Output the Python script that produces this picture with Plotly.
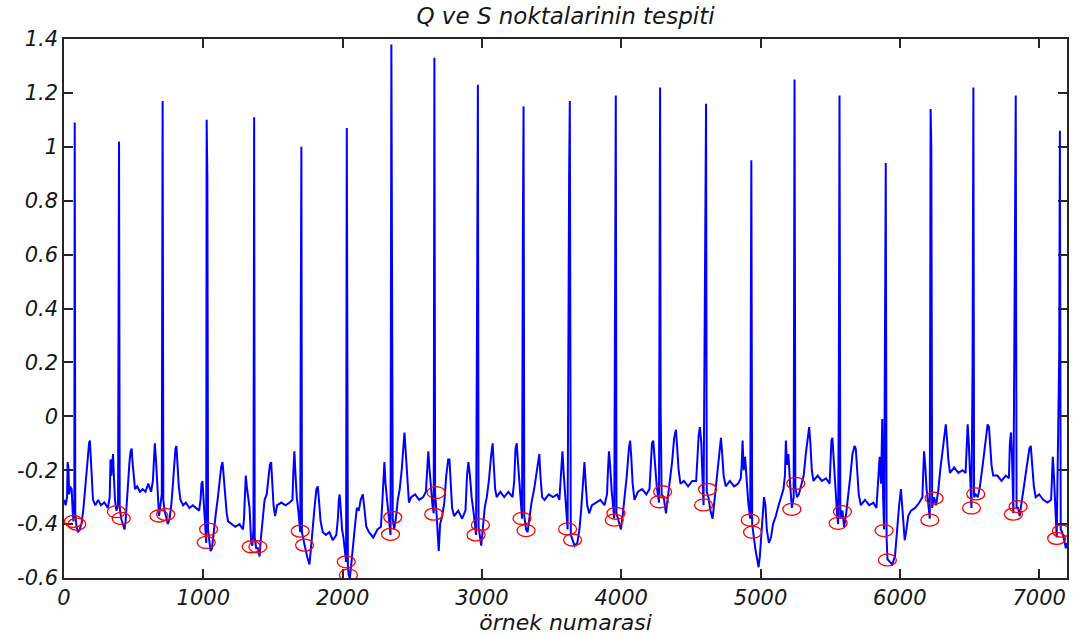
import plotly.graph_objects as go

# ECG trace: sample index and amplitude (mV) along the record
sample_idx = [
    0, 12, 22, 26, 32, 37, 44, 55, 62, 68, 74, 77, 81, 90, 100, 112, 125, 138, 150, 162,
    172, 180, 186, 192, 199, 208, 225, 245, 265, 290, 315,
    328, 334, 340, 346, 352, 358, 366, 376, 388, 395, 400, 411, 422, 434, 442, 452, 462, 470,
    478, 486, 492, 500, 510, 525, 545, 565, 585, 605, 625, 638,
    646, 652, 660, 668, 676, 682, 692, 702, 708, 713, 722, 732, 745, 758, 770, 782, 792, 800,
    807, 814, 824, 836, 855, 875, 900, 925, 950, 970, 980,
    987, 994, 1001, 1009, 1016, 1021, 1024, 1029, 1034, 1042, 1052, 1062, 1075, 1090, 1105,
    1118, 1128, 1138, 1146, 1156, 1168, 1178, 1200, 1230, 1260, 1285,
    1292, 1298, 1305, 1312, 1320, 1332, 1344, 1352, 1360, 1362, 1365, 1369, 1380, 1392, 1404,
    1412, 1425, 1440, 1455, 1468, 1478, 1487, 1495, 1504, 1515, 1530, 1560, 1590, 1620, 1640,
    1647, 1654, 1661, 1671, 1684, 1696, 1700, 1704, 1708, 1718, 1728, 1745, 1762, 1771, 1785,
    1800, 1812, 1822, 1830, 1842, 1858, 1880, 1905, 1930, 1955, 1966,
    1973, 1979, 1986, 1996, 2006, 2016, 2025, 2030, 2034, 2038, 2044, 2052, 2062, 2076, 2090,
    2102, 2116, 2130, 2145, 2156, 2170, 2190, 2220, 2250, 2275, 2287,
    2294, 2300, 2308, 2320, 2332, 2344, 2350, 2354, 2360, 2370, 2382, 2396, 2410, 2424, 2434,
    2444, 2454, 2465, 2476, 2492, 2520, 2550, 2578, 2598,
    2607, 2615, 2623, 2634, 2645, 2654, 2659, 2664, 2672, 2690, 2700, 2715, 2730, 2744, 2758,
    2767, 2775, 2786, 2800, 2830, 2858, 2882,
    2893, 2903, 2914, 2926, 2941, 2958, 2966, 2971, 2976, 2986, 2995, 3006, 3020, 3035, 3050,
    3065, 3077, 3085, 3095, 3106, 3132, 3160, 3190, 3220,
    3232, 3241, 3250, 3260, 3272, 3288, 3294, 3299, 3304, 3317, 3328, 3341, 3356, 3375, 3394,
    3404, 3412, 3420, 3432, 3450, 3480, 3510, 3540, 3556,
    3564, 3571, 3578, 3588, 3600, 3615, 3626, 3631, 3638, 3651, 3665, 3685, 3700, 3712, 3722,
    3730, 3736, 3745, 3756, 3770, 3790, 3820, 3850, 3880, 3898,
    3905, 3912, 3920, 3932, 3950, 3956, 3961, 3966, 3976, 3990, 3998, 4010, 4025, 4040, 4055,
    4064, 4072, 4082, 4095, 4120, 4150, 4180, 4203,
    4212, 4221, 4230, 4240, 4255, 4271, 4279, 4283, 4290, 4305, 4321, 4335, 4350, 4365, 4380,
    4393, 4402, 4412, 4425, 4450, 4480, 4510, 4538,
    4547, 4556, 4565, 4575, 4584, 4591, 4609, 4614, 4626, 4640, 4656, 4670, 4685, 4700, 4710,
    4716, 4725, 4735, 4750, 4780, 4810, 4840, 4858,
    4865, 4871, 4879, 4889, 4900, 4912, 4926, 4934, 4940, 4950, 4965, 4976, 4986, 4995, 5005,
    5015, 5025, 5035, 5045, 5060, 5075, 5090, 5110, 5130, 5150, 5165, 5175,
    5182, 5190, 5200, 5212, 5225, 5238, 5244, 5250, 5262, 5275, 5290, 5310, 5325, 5340, 5349,
    5358, 5368, 5380, 5410, 5440, 5470, 5496,
    5503, 5509, 5516, 5525, 5538, 5549, 5557, 5562, 5567, 5573, 5588, 5600, 5615, 5630, 5645,
    5660, 5675, 5684, 5692, 5705, 5720, 5750, 5780, 5810, 5832,
    5845, 5855, 5865, 5874, 5880, 5887, 5899, 5905, 5911, 5925, 5945, 5965, 5980, 5995, 6008,
    6015, 6025, 6035, 6045, 6060, 6080, 6110, 6140, 6162,
    6168, 6174, 6182, 6192, 6205, 6215, 6221, 6226, 6232, 6246, 6260, 6275, 6290, 6305, 6320,
    6330, 6338, 6348, 6360, 6390, 6420, 6450, 6472,
    6479, 6487, 6495, 6505, 6514, 6522, 6528, 6533, 6545, 6560, 6575, 6595, 6615, 6630, 6640,
    6648, 6658, 6670, 6700, 6730, 6760, 6783,
    6790, 6798, 6806, 6815, 6832, 6838, 6849, 6860, 6875, 6895, 6915, 6930, 6940, 6950, 6962,
    6975, 7000, 7030, 7060, 7086,
    7092, 7098, 7106, 7116, 7126, 7144, 7149, 7155, 7165, 7180, 7192, 7200,
]

amplitude = [
    -0.31, -0.33, -0.30, -0.17, -0.19, -0.29, -0.26, -0.27, -0.35, -0.39, -0.33, 1.09, -0.36, -0.41, -0.43, -0.42, -0.40, -0.35, -0.28, -0.20,
    -0.15, -0.10, -0.09, -0.15, -0.25, -0.31, -0.33, -0.31, -0.33, -0.32, -0.34,
    -0.30, -0.16, -0.22, -0.18, -0.14, -0.22, -0.31, -0.35, -0.33, 1.02, -0.34, -0.38, -0.40, -0.42, -0.39, -0.30, -0.24, -0.17,
    -0.13, -0.12, -0.17, -0.23, -0.27, -0.26, -0.28, -0.27, -0.28, -0.25, -0.28, -0.24,
    -0.12, -0.10, -0.16, -0.25, -0.31, -0.37, -0.33, -0.29, 1.17, -0.31, -0.35, -0.37, -0.40, -0.38, -0.33, -0.25, -0.17, -0.12,
    -0.11, -0.17, -0.26, -0.31, -0.33, -0.32, -0.34, -0.33, -0.34, -0.35, -0.31,
    -0.25, -0.24, -0.30, -0.37, -0.44, -0.47, 1.10, 0.89, -0.42, -0.46, -0.50, -0.49, -0.42, -0.36, -0.30,
    -0.22, -0.19, -0.17, -0.22, -0.30, -0.36, -0.39, -0.40, -0.41, -0.40, -0.42,
    -0.38, -0.29, -0.22, -0.26, -0.30, -0.34, -0.47, -0.48, -0.42, 0.07, 1.11, -0.45, -0.49, -0.49, -0.52,
    -0.46, -0.38, -0.31, -0.29, -0.22, -0.18, -0.17, -0.24, -0.33, -0.37, -0.33, -0.32, -0.33, -0.32, -0.31,
    -0.20, -0.13, -0.21, -0.30, -0.36, -0.43, 0.40, 1.00, -0.43, -0.46, -0.48, -0.52, -0.55, -0.50, -0.40,
    -0.33, -0.27, -0.26, -0.31, -0.39, -0.43, -0.44, -0.43, -0.46, -0.44, -0.38,
    -0.31, -0.29, -0.34, -0.42, -0.45, -0.50, -0.54, 1.07, 0.36, -0.56, -0.59, -0.60, -0.55, -0.46, -0.40,
    -0.34, -0.35, -0.31, -0.29, -0.34, -0.41, -0.43, -0.45, -0.42, -0.41, -0.30,
    -0.21, -0.17, -0.25, -0.32, -0.36, -0.44, 1.38, 0.05, -0.38, -0.42, -0.38, -0.31, -0.27, -0.20, -0.11,
    -0.06, -0.14, -0.25, -0.32, -0.30, -0.29, -0.31, -0.30, -0.28,
    -0.20, -0.13, -0.19, -0.28, -0.33, -0.36, 1.33, -0.29, -0.34, -0.50, -0.40, -0.37, -0.32, -0.22, -0.16,
    -0.16, -0.24, -0.34, -0.37, -0.35, -0.38, -0.35,
    -0.22, -0.17, -0.22, -0.30, -0.36, -0.44, 0.51, 1.23, -0.41, -0.45, -0.48, -0.42, -0.34, -0.30, -0.24,
    -0.15, -0.10, -0.18, -0.27, -0.30, -0.28, -0.30, -0.28, -0.30,
    -0.24, -0.12, -0.10, -0.18, -0.28, -0.38, 0.69, 1.15, -0.37, -0.42, -0.43, -0.38, -0.32, -0.27, -0.20,
    -0.15, -0.14, -0.22, -0.30, -0.31, -0.29, -0.30, -0.29, -0.31,
    -0.25, -0.16, -0.13, -0.22, -0.33, -0.42, 0.89, 1.17, -0.44, -0.46, -0.48, -0.47, -0.42, -0.35, -0.28,
    -0.20, -0.17, -0.25, -0.33, -0.36, -0.33, -0.32, -0.31, -0.33, -0.29,
    -0.20, -0.13, -0.18, -0.28, -0.38, 0.95, 1.19, -0.36, -0.38, -0.41, -0.42, -0.37, -0.30, -0.22, -0.12,
    -0.09, -0.15, -0.25, -0.31, -0.28, -0.27, -0.29, -0.27,
    -0.19, -0.10, -0.09, -0.17, -0.26, -0.32, 1.22, 0.03, -0.29, -0.30, -0.36, -0.30, -0.24, -0.17, -0.08,
    -0.05, -0.12, -0.20, -0.25, -0.24, -0.26, -0.24, -0.24,
    -0.16, -0.07, -0.04, -0.10, -0.24, -0.33, 1.16, -0.28, -0.30, -0.35, -0.38, -0.31, -0.24, -0.15, -0.09,
    -0.08, -0.14, -0.22, -0.26, -0.24, -0.26, -0.25, -0.23,
    -0.18, -0.09, -0.20, -0.15, -0.25, -0.32, -0.38, 0.95, -0.40, -0.45, -0.50, -0.53, -0.56, -0.52, -0.45,
    -0.35, -0.30, -0.33, -0.42, -0.47, -0.45, -0.40, -0.37, -0.33, -0.30, -0.27, -0.22,
    -0.09, -0.18, -0.14, -0.25, -0.34, -0.30, 1.25, -0.26, -0.30, -0.29, -0.26, -0.22, -0.14, -0.06, -0.04,
    -0.10, -0.20, -0.24, -0.22, -0.24, -0.23, -0.25,
    -0.16, -0.09, -0.08, -0.17, -0.28, -0.36, -0.40, 0.11, 1.19, -0.38, -0.35, -0.41, -0.36, -0.30, -0.22,
    -0.14, -0.11, -0.12, -0.20, -0.29, -0.33, -0.31, -0.33, -0.32, -0.34,
    -0.22, -0.15, -0.25, -0.01, -0.30, -0.42, 0.94, -0.45, -0.53, -0.54, -0.55, -0.52, -0.42, -0.33, -0.27,
    -0.33, -0.40, -0.46, -0.43, -0.37, -0.35, -0.34, -0.32, -0.30,
    -0.21, -0.13, -0.18, -0.27, -0.33, -0.38, 1.14, 1.00, -0.34, -0.30, -0.33, -0.28, -0.20, -0.13, -0.06,
    -0.03, -0.08, -0.16, -0.21, -0.19, -0.21, -0.20, -0.21,
    -0.10, -0.03, -0.10, -0.25, -0.34, 0.18, 1.22, -0.30, -0.29, -0.30, -0.26, -0.18, -0.08, -0.03, -0.04,
    -0.10, -0.18, -0.22, -0.22, -0.24, -0.22, -0.23,
    -0.10, -0.06, -0.16, -0.36, 1.19, -0.34, -0.34, -0.37, -0.32, -0.25, -0.17, -0.12, -0.11, -0.18, -0.26,
    -0.30, -0.29, -0.31, -0.32, -0.31,
    -0.24, -0.15, -0.22, -0.33, -0.45, 0.22, 1.06, -0.42, -0.43, -0.46, -0.49, -0.47,
]

# Detected Q and S points (sample index, amplitude)
q_idx = [68, 376, 682, 1021, 1344, 1696, 2026, 2344, 2654, 2958, 3288, 3615,
         3950, 4273, 4591, 4926, 5225, 5557, 5887, 6215, 6514, 6815, 7126]
q_val = [-0.39, -0.354, -0.37, -0.468, -0.484, -0.426, -0.54, -0.438, -0.363, -0.44, -0.379, -0.418,
         -0.385, -0.317, -0.329, -0.385, -0.345, -0.397, -0.424, -0.385, -0.34, -0.363, -0.453]
s_idx = [92, 411, 730, 1038, 1392, 1727, 2042, 2360, 2671, 2989, 3317, 3651,
         3962, 4297, 4620, 4943, 5253, 5588, 5911, 6246, 6545, 6849, 7159]
s_val = [-0.40, -0.379, -0.364, -0.419, -0.484, -0.478, -0.589, -0.375, -0.283, -0.403, -0.424, -0.459,
         -0.36, -0.28, -0.271, -0.43, -0.249, -0.354, -0.533, -0.304, -0.288, -0.335, -0.426]

x_ticks = [0, 1000, 2000, 3000, 4000, 5000, 6000, 7000]
x_tick_text = ["0", "1000", "2000", "3000", "4000", "5000", "6000", "7000"]
y_ticks = [-0.6, -0.4, -0.2, 0, 0.2, 0.4, 0.6, 0.8, 1.0, 1.2, 1.4]
y_tick_text = ["-0.6", "-0.4", "-0.2", "0", "0.2", "0.4", "0.6", "0.8", "1", "1.2", "1.4"]

FONT = "DejaVu Sans, Verdana, sans-serif"
TEXT_COLOR = "#161616"
AXIS_COLOR = "#262626"

fig = go.Figure()
fig.add_trace(go.Scatter(
    x=sample_idx, y=amplitude, mode="lines",
    line=dict(color="#0000ff", width=2),
    hoverinfo="skip", showlegend=False,
))

# red ellipse markers on each Q and S point
marker_shapes = []
for xs, ys in ((q_idx, q_val), (s_idx, s_val)):
    for xv, yv in zip(xs, ys):
        marker_shapes.append(dict(
            type="circle", xref="x", yref="y",
            xsizemode="pixel", ysizemode="pixel",
            xanchor=xv, yanchor=yv,
            x0=-9, x1=9, y0=-6, y1=6,
            line=dict(color="#ff0000", width=1.3),
            layer="above",
        ))

axis_common = dict(
    showgrid=False, zeroline=False,
    showline=True, linecolor=AXIS_COLOR, linewidth=1.5, mirror="allticks",
    ticks="inside", ticklen=9, tickwidth=1.5, tickcolor=AXIS_COLOR,
)

fig.update_layout(
    width=1077, height=637,
    margin=dict(l=64, r=8, t=39, b=59),
    paper_bgcolor="white", plot_bgcolor="white",
    shapes=marker_shapes,
    title=dict(
        text="Q ve S noktalarinin tespiti",
        x=0.5, xref="paper", xanchor="center",
        y=1 - 16 / 637, yref="container", yanchor="middle",
        font=dict(family=FONT, size=23, color=TEXT_COLOR, style="italic"),
    ),
    xaxis=dict(
        range=[0, 7200], tickvals=x_ticks, ticktext=x_tick_text,
        tickfont=dict(family=FONT, size=21, color=TEXT_COLOR, style="italic"),
        title=dict(text="örnek numarasi", standoff=0,
                   font=dict(family=FONT, size=22, color=TEXT_COLOR, style="italic")),
        ticklabelstandoff=0,
        **axis_common,
    ),
    yaxis=dict(
        range=[-0.6, 1.4], tickvals=y_ticks, ticktext=y_tick_text,
        tickfont=dict(family=FONT, size=21, color=TEXT_COLOR, style="italic"),
        ticklabelstandoff=0,
        **axis_common,
    ),
)

fig.write_html("out.html")
